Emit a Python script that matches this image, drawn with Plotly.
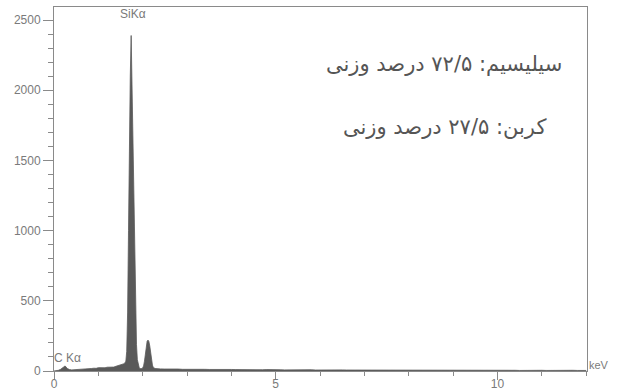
import plotly.graph_objects as go

# Channel energies (keV) and counts
energy_low = [0.00, 0.05, 0.10, 0.15, 0.20, 0.25, 0.30, 0.35, 0.40, 0.45, 0.50, 0.55, 0.60, 0.65,
              0.70, 0.75, 0.80, 0.85, 0.90, 0.95, 1.00, 1.05, 1.10, 1.15, 1.20, 1.25, 1.30, 1.35,
              1.40, 1.45, 1.50]
counts_low = [0, 2, 5, 12, 26, 36, 18, 10, 8, 9, 9, 8, 10, 9, 11, 12, 16, 18, 20, 19, 24, 22, 25,
              23, 27, 26, 30, 28, 34, 38, 42]

energy_peak = [1.52, 1.54, 1.56, 1.58, 1.60, 1.62, 1.64, 1.66, 1.68, 1.70, 1.72, 1.74, 1.76, 1.78,
               1.80, 1.82, 1.84, 1.86, 1.88, 1.90, 1.92, 1.94, 1.96, 1.98, 2.00, 2.02, 2.04, 2.06,
               2.08, 2.10, 2.12, 2.14, 2.16, 2.18, 2.20, 2.22, 2.24, 2.26, 2.28, 2.30, 2.32, 2.34,
               2.36, 2.38, 2.40]
counts_peak = [44, 46, 48, 52, 58, 70, 140, 420, 1000, 1900, 2100, 2390, 2000, 1500,
               1150, 800, 400, 190, 80, 40, 26, 16, 15, 18, 22, 36, 70, 125,
               180, 212, 220, 210, 178, 128, 78, 42, 25, 20, 18, 17, 16, 17,
               15, 16, 15]

energy_high = [2.5, 2.6, 2.7, 2.8, 2.9, 3.0,
               3.1, 3.2, 3.3, 3.4, 3.5, 3.6, 3.7, 3.8, 3.9, 4.0,
               4.1, 4.2, 4.3, 4.4, 4.5, 4.6, 4.7, 4.8, 4.9, 5.0,
               5.1, 5.2, 5.3, 5.4, 5.5, 5.6, 5.7, 5.8, 5.9, 6.0,
               6.1, 6.2, 6.3, 6.4, 6.5, 6.6, 6.7, 6.8, 6.9, 7.0,
               7.1, 7.2, 7.3, 7.4, 7.5, 7.6, 7.7, 7.8, 7.9, 8.0,
               8.1, 8.2, 8.3, 8.4, 8.5, 8.6, 8.7, 8.8, 8.9, 9.0,
               9.1, 9.2, 9.3, 9.4, 9.5, 9.6, 9.7, 9.8, 9.9, 10.0,
               10.1, 10.2, 10.3, 10.4, 10.5, 10.6, 10.7, 10.8, 10.9, 11.0,
               11.1, 11.2, 11.3, 11.4, 11.5, 11.6, 11.7, 11.8, 11.9, 12.0]
counts_high = [14, 15, 13, 14, 12, 13,
               12, 13, 11, 12, 11, 12, 10, 11, 10, 11,
               10, 9, 11, 10, 9, 10, 9, 10, 8, 9,
               9, 8, 9, 8, 9, 8, 8, 9, 7, 8,
               8, 7, 8, 7, 8, 7, 7, 8, 7, 7,
               7, 6, 7, 7, 6, 7, 6, 7, 6, 6,
               6, 7, 6, 6, 5, 6, 6, 5, 6, 6,
               5, 6, 5, 7, 6, 8, 10, 7, 5, 6,
               5, 5, 6, 5, 4, 5, 5, 4, 5, 5,
               4, 5, 4, 5, 4, 4, 5, 4, 4, 4]

energy = energy_low + energy_peak + energy_high
counts = counts_low + counts_peak + counts_high

y_ticks = [0, 500, 1000, 1500, 2000, 2500]
x_ticks = [0, 5, 10]

peak_labels = ["SiKα", "C Kα"]
peak_label_pos = [1.78, 0.30]
persian_lines = ["سیلیسیم: ۷۲/۵ درصد وزنی", "کربن: ۲۷/۵ درصد وزنی"]
x_unit = "keV"

axis_col = "#8a8a8a"
text_col = "#7a7a7a"

fig = go.Figure()
fig.add_trace(go.Scatter(
    x=energy, y=counts, mode="lines", fill="tozeroy",
    line=dict(color="#5a5a5a", width=0.8), fillcolor="#5a5a5a",
    hoverinfo="x+y", showlegend=False,
))

fig.update_layout(
    width=618, height=392,
    margin=dict(l=54, r=31, t=7, b=21, autoexpand=False),
    paper_bgcolor="white", plot_bgcolor="white",
    font=dict(family="Liberation Sans, Arial, sans-serif", size=12, color=text_col),
    xaxis=dict(
        range=[0, 12.02], tickvals=x_ticks, ticks="outside", ticklen=8, tickcolor=axis_col,
        showline=True, linecolor=axis_col, linewidth=1, mirror=True,
        showgrid=False, zeroline=False, automargin=False, ticklabelstandoff=-6,
        minor=dict(dtick=1, ticks="outside", ticklen=4, tickcolor=axis_col),
        tickfont=dict(size=12, color=text_col),
    ),
    yaxis=dict(
        range=[0, 2593], tickvals=y_ticks, ticks="outside", ticklen=10, tickcolor=axis_col,
        showline=True, linecolor=axis_col, linewidth=1, mirror=True,
        showgrid=False, zeroline=False, automargin=False,
        minor=dict(dtick=100, ticks="outside", ticklen=5, tickcolor=axis_col),
        tickfont=dict(size=12, color=text_col),
    ),
)

ann = dict(showarrow=False, xanchor="center", yanchor="middle")
fig.add_annotation(x=peak_label_pos[0], y=0.981, xref="x", yref="paper", text=peak_labels[0],
                   font=dict(size=12, color=text_col), **ann)
fig.add_annotation(x=peak_label_pos[1], y=0.036, xref="x", yref="paper", text=peak_labels[1],
                   font=dict(size=12, color=text_col), **ann)
fig.add_annotation(x=1.022, y=0.016, xref="paper", yref="paper", text=x_unit,
                   font=dict(size=11, color=text_col), **ann)
fig.add_annotation(x=0.732, y=0.843, xref="paper", yref="paper", text=persian_lines[0],
                   font=dict(size=21, color="#555555", family="DejaVu Sans"), **ann)
fig.add_annotation(x=0.732, y=0.670, xref="paper", yref="paper", text=persian_lines[1],
                   font=dict(size=21, color="#555555", family="DejaVu Sans"), **ann)

fig.write_html("out.html", config={"displayModeBar": False},
               post_script="document.body.style.margin='0';")
